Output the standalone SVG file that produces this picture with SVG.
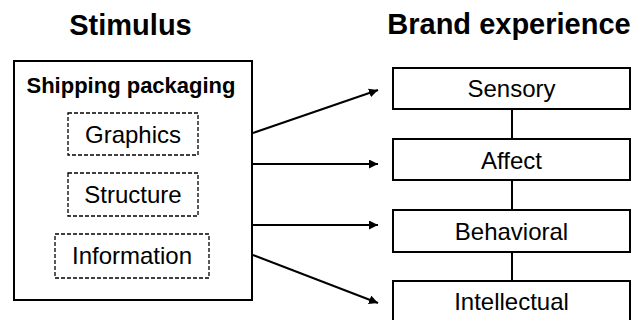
<svg xmlns="http://www.w3.org/2000/svg" width="639" height="320" viewBox="0 0 639 320">
<defs>
<style>
.t{font-family:"Liberation Sans",Arial,sans-serif;fill:#000;text-anchor:middle}
.h{font-size:29px;font-weight:bold}
.b{font-size:22px;font-weight:bold}
.r{font-size:24px}
.box{fill:#fff;stroke:#000;stroke-width:2}
.dash{fill:none;stroke:#000;stroke-width:1.3;stroke-dasharray:4 2}
.ln{stroke:#000;stroke-width:2;fill:none}
</style>
<marker id="ah" viewBox="0 0 10 10" refX="10" refY="5" markerWidth="4.5" markerHeight="4.5" orient="auto" markerUnits="strokeWidth">
<path d="M0,0 L10,5 L0,10 z" fill="#000"/>
</marker>
</defs>
<rect width="639" height="320" fill="#fff"/>
<text class="t h" x="130.5" y="35">Stimulus</text>
<text class="t h" x="509" y="34">Brand experience</text>
<g id="stimulus">
<rect class="box" x="14" y="61" width="238" height="239"/>
<text class="t b" x="131" y="93">Shipping packaging</text>
</g>
<g id="graphics">
<rect class="dash" x="68" y="113" width="130" height="42"/>
<text class="t r" x="133" y="143">Graphics</text>
</g>
<g id="structure">
<rect class="dash" x="68" y="173" width="130" height="43"/>
<text class="t r" x="133" y="203">Structure</text>
</g>
<g id="information">
<rect class="dash" x="55" y="234" width="154" height="44"/>
<text class="t r" x="132" y="264">Information</text>
</g>
<g id="connectors">
<line class="ln" x1="253" y1="133" x2="378" y2="90" marker-end="url(#ah)"/>
<line class="ln" x1="253" y1="164" x2="378" y2="164" marker-end="url(#ah)"/>
<line class="ln" x1="253" y1="225" x2="378" y2="225" marker-end="url(#ah)"/>
<line class="ln" x1="253" y1="255" x2="378" y2="303" marker-end="url(#ah)"/>
<line class="ln" x1="512" y1="109" x2="512" y2="139"/>
<line class="ln" x1="512" y1="180" x2="512" y2="210"/>
<line class="ln" x1="512" y1="252" x2="512" y2="281"/>
</g>
<g id="sensory">
<rect class="box" x="393" y="68" width="237" height="41"/>
<text class="t r" x="511.5" y="97">Sensory</text>
</g>
<g id="affect">
<rect class="box" x="393" y="139" width="237" height="41"/>
<text class="t r" x="511.5" y="169">Affect</text>
</g>
<g id="behavioral">
<rect class="box" x="393" y="210" width="237" height="42"/>
<text class="t r" x="511.5" y="240">Behavioral</text>
</g>
<g id="intellectual">
<rect class="box" x="393" y="281" width="237" height="42"/>
<text class="t r" x="511.5" y="310">Intellectual</text>
</g>
</svg>
